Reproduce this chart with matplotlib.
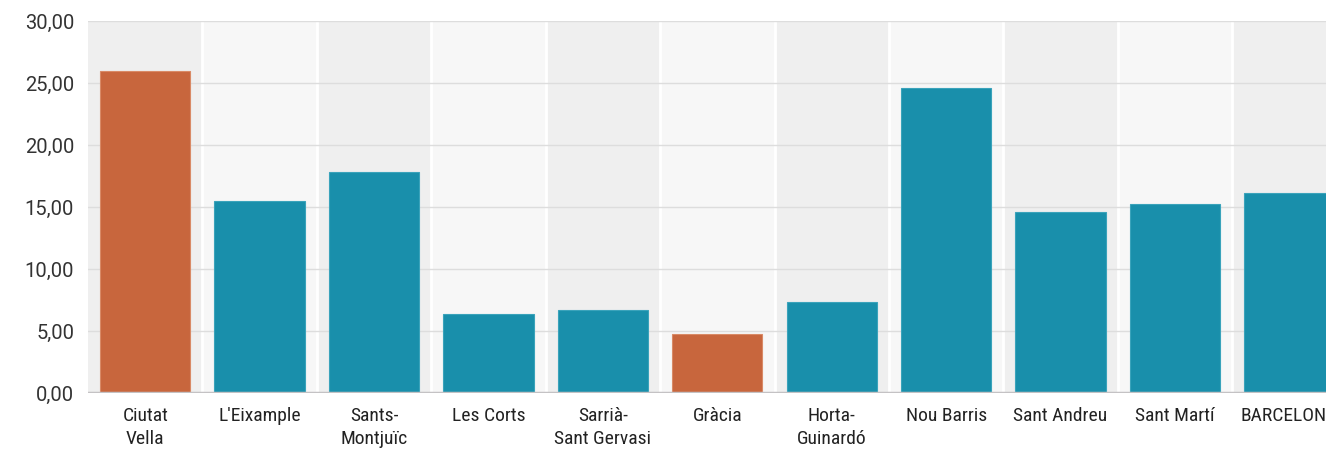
import matplotlib.pyplot as plt
from matplotlib.ticker import FuncFormatter

districts = ["Ciutat\nVella", "L'Eixample", "Sants-\nMontjuïc", "Les Corts",
             "Sarrià-\nSant Gervasi", "Gràcia", "Horta-\nGuinardó", "Nou Barris",
             "Sant Andreu", "Sant Martí", "BARCELONA"]
values = [25.95, 15.45, 17.8, 6.35, 6.7, 4.75, 7.35, 24.6, 14.6, 15.25, 16.1]
highlight = [True, False, False, False, False, True, False, False, False, False, False]

ORANGE = "#c8663d"
TEAL = "#198fab"

plt.rcParams["font.family"] = ["Roboto Condensed", "Liberation Sans Narrow", "Roboto", "DejaVu Sans"]

fig = plt.figure(figsize=(13.26, 4.51), dpi=100)
ax = fig.add_axes([88 / 1326, 58 / 451, 1 - 88 / 1326, 372 / 451])

# alternating column bands
for i in range(len(districts)):
    band = "#efefef" if i % 2 == 0 else "#f7f7f7"
    ax.axvspan(i - 0.5, i + 0.5, color=band, zorder=0, lw=0)
    ax.axvline(i + 0.5, color="white", lw=2, zorder=0.5)

ax.yaxis.grid(True, color="#dddddd", lw=1, zorder=1)
ax.set_axisbelow(True)

colors = [ORANGE if h else TEAL for h in highlight]
edges = ["#d98a66" if h else "#3aa3bb" for h in highlight]
ax.bar(range(len(values)), values, width=0.79, color=colors, edgecolor=edges,
       linewidth=0.8, zorder=2)

ax.axhline(0, color="#c4c2c4", lw=2.5, zorder=3)

ax.set_ylim(0, 30)
ax.set_xlim(-0.5, 10.32)
ax.set_yticks(range(0, 31, 5))
ax.yaxis.set_major_formatter(FuncFormatter(lambda v, p: f"{v:.2f}".replace(".", ",")))
ax.set_xticks(range(len(districts)))
ax.set_xticklabels(districts, fontsize=14, color="#222222", linespacing=1.4)
for lbl in ax.get_yticklabels():
    lbl.set_family(["Roboto", "DejaVu Sans"])
ax.tick_params(axis="y", length=0, pad=10, labelsize=14.5, labelcolor="#333333")
ax.tick_params(axis="x", length=0, pad=10)

for s in ax.spines.values():
    s.set_visible(False)

fig.savefig("out.png", dpi=100)
